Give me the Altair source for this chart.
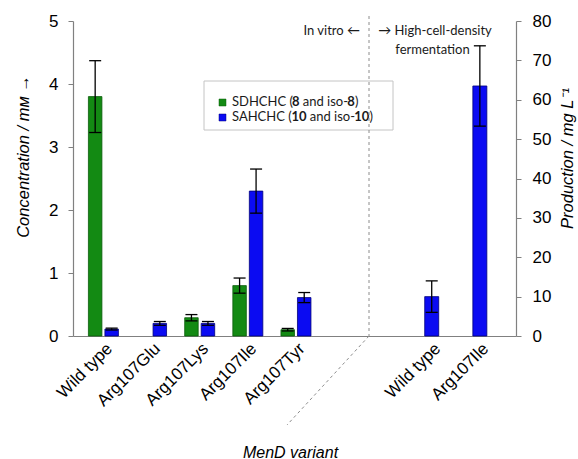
import json
import altair as alt
import pandas as pd

# ---------------- data ----------------
variants_vitro = ["Wild type", "Arg107Glu", "Arg107Lys", "Arg107Ile", "Arg107Tyr"]
sdhchc = [3.8, None, 0.29, 0.8, 0.1]
sdhchc_err = [0.57, None, 0.05, 0.12, 0.02]
sahchc = [0.11, 0.2, 0.2, 2.3, 0.61]
sahchc_err = [0.015, 0.03, 0.03, 0.35, 0.08]

variants_ferm = ["Wild type", "Arg107Ile"]
production = [10.0, 63.5]
production_err = [4.0, 10.2]

# ---------------- layout constants ----------------
FERM_SHIFT = 6.82
X_DOMAIN = [-0.528, 8.467]
GREEN = "#138a13"
GREEN_EDGE = "#0b5c0b"
BLUE = "#0b0bf2"
BLUE_EDGE = "#00007a"
GREY = "#808080"
FONT = "Liberation Sans"
CFONT = "Lato"

rows = []
for i, v in enumerate(variants_vitro):
    if sdhchc[i] is not None:
        rows.append(dict(idx=i, variant=v, series="SDHCHC", value=sdhchc[i], err=sdhchc_err[i]))
    rows.append(dict(idx=i, variant=v, series="SAHCHC", value=sahchc[i], err=sahchc_err[i]))
vitro = pd.DataFrame(rows)
ferm = pd.DataFrame(dict(idx=list(range(len(variants_ferm))), variant=variants_ferm,
                         value=production, err=production_err))

x_ticks = [float(i) for i in range(len(variants_vitro))] + [i + FERM_SHIFT for i in range(len(variants_ferm))]
all_labels = variants_vitro + variants_ferm
label_expr = f"{json.dumps(all_labels)}[indexof({json.dumps(x_ticks)}, datum.value)]"

x_axis = alt.Axis(values=x_ticks, labelExpr=label_expr, labelAngle=315, labelFont=FONT,
                  labelFontSize=17, labelColor="black", ticks=False, grid=False,
                  domainColor=GREY, domainWidth=1.2, labelFlush=False, labelOverlap=False,
                  labelBound=False, labelPadding=4,
                  title="MenD variant", titleFont=FONT, titleFontSize=16, titleFontStyle="italic",
                  titleFontWeight="normal", titleColor="black", titleX=217, titleY=116,
                  titleAlign="center", titleBaseline="middle")
x_enc = alt.X("pos:Q", scale=alt.Scale(domain=X_DOMAIN, nice=False, zero=False), axis=x_axis)

left_axis = alt.Axis(values=[0, 1, 2, 3, 4, 5], format="d", grid=False,
                     title="Concentration / mм →", titleFont=FONT, titleFontSize=16.5,
                     titleFontStyle="italic", titleFontWeight="normal", titleColor="black",
                     titleAngle=270, titleX=-50, titleY=135, titleAlign="center",
                     titleBaseline="middle", labelFont=FONT, labelFontSize=17, labelColor="black",
                     labelPadding=10, tickSize=5, tickColor=GREY, domainColor=GREY, domainWidth=1.2)
right_axis = alt.Axis(orient="right", values=list(range(0, 81, 10)), format="d", grid=False,
                      title="Production / mg L⁻¹", titleFont=FONT, titleFontSize=16.5,
                      titleFontStyle="italic", titleFontWeight="normal", titleColor="black",
                      titleAngle=270, titleX=51, titleY=137, titleAlign="center",
                      titleBaseline="middle", labelFont=FONT, labelFontSize=17, labelColor="black",
                      labelPadding=11, tickSize=5, tickColor=GREY, domainColor=GREY, domainWidth=1.2)

y_left_scale = alt.Scale(domain=[0, 5], nice=False, zero=True)
y_right_scale = alt.Scale(domain=[0, 80], nice=False, zero=True)

base_v = alt.Chart(vitro).transform_calculate(
    pos="datum.idx", lo="datum.value - datum.err", hi="datum.value + datum.err")


def vitro_layers(series, offset, fill, edge):
    b = base_v.transform_filter(alt.datum.series == series)
    bars = b.mark_bar(width=13.5, xOffset=offset, fill=fill, stroke=edge, strokeWidth=0.8).encode(
        x=x_enc, y=alt.Y("value:Q", scale=y_left_scale, axis=left_axis))
    rule = b.mark_rule(xOffset=offset, color="black", strokeWidth=1.3).encode(
        x=x_enc, y=alt.Y("lo:Q", scale=y_left_scale, axis=left_axis), y2="hi:Q")
    cap_hi = b.mark_tick(orient="horizontal", size=12, thickness=1.3, xOffset=offset,
                         color="black", opacity=1).encode(
        x=x_enc, y=alt.Y("hi:Q", scale=y_left_scale, axis=left_axis))
    cap_lo = b.mark_tick(orient="horizontal", size=12, thickness=1.3, xOffset=offset,
                         color="black", opacity=1).encode(
        x=x_enc, y=alt.Y("lo:Q", scale=y_left_scale, axis=left_axis))
    return [bars, rule, cap_hi, cap_lo]


left = alt.layer(*vitro_layers("SDHCHC", -8.25, GREEN, GREEN_EDGE),
                 *vitro_layers("SAHCHC", 8.25, BLUE, BLUE_EDGE))

base_f = alt.Chart(ferm).transform_calculate(
    pos=f"datum.idx + {FERM_SHIFT}", lo="datum.value - datum.err", hi="datum.value + datum.err")
f_bars = base_f.mark_bar(width=14, fill=BLUE, stroke=BLUE_EDGE, strokeWidth=0.8).encode(
    x=x_enc, y=alt.Y("value:Q", scale=y_right_scale, axis=right_axis))
f_rule = base_f.mark_rule(color="black", strokeWidth=1.3).encode(
    x=x_enc, y=alt.Y("lo:Q", scale=y_right_scale, axis=right_axis), y2="hi:Q")
f_cap_hi = base_f.mark_tick(orient="horizontal", size=12, thickness=1.3, color="black", opacity=1).encode(
    x=x_enc, y=alt.Y("hi:Q", scale=y_right_scale, axis=right_axis))
f_cap_lo = base_f.mark_tick(orient="horizontal", size=12, thickness=1.3, color="black", opacity=1).encode(
    x=x_enc, y=alt.Y("lo:Q", scale=y_right_scale, axis=right_axis))
right = alt.layer(f_bars, f_rule, f_cap_hi, f_cap_lo)

# ---------------- annotations ----------------
one = pd.DataFrame({"k": [0]})


def txt(s, x, y, align="left", weight="normal", size=13, font=CFONT):
    return alt.Chart(one).mark_text(text=s, align=align, baseline="middle", font=font,
                                    fontSize=size, fontWeight=weight, color="#1a1a1a").encode(
        x=alt.value(x), y=alt.value(y))


legend_box = alt.Chart(one).mark_rect(fill="white", stroke="#c4c4c4", strokeWidth=1).encode(
    x=alt.value(131), x2=alt.value(320), y=alt.value(60), y2=alt.value(109))
sq_green = alt.Chart(one).mark_rect(fill=GREEN, stroke=GREEN_EDGE, strokeWidth=0.5).encode(
    x=alt.value(146), x2=alt.value(153), y=alt.value(78), y2=alt.value(85))
sq_blue = alt.Chart(one).mark_rect(fill=BLUE, stroke=BLUE_EDGE, strokeWidth=0.5).encode(
    x=alt.value(146), x2=alt.value(153), y=alt.value(93), y2=alt.value(100))

# (text, weight, advance to next segment incl. following space)
leg1 = [("SDHCHC (", "normal", 60.0), ("8", "bold", 10.8), ("and iso-", "normal", 44.5),
        ("8", "bold", 7.6), (")", "normal", 4)]
leg2 = [("SAHCHC (", "normal", 59.5), ("10", "bold", 18.2), ("and iso-", "normal", 44.5),
        ("10", "bold", 15.2), (")", "normal", 4)]
legend_texts = []
for segs, yy in ((leg1, 80.5), (leg2, 95.5)):
    xx = 159
    for s, w, adv in segs:
        legend_texts.append(txt(s, xx, yy, weight=w))
        xx += adv

vline = alt.Chart(one).mark_rule(color="#8c8c8c", strokeDash=[3, 3], strokeWidth=1).encode(
    x=alt.value(296), x2=alt.value(296), y=alt.value(-5), y2=alt.value(315))
dline = alt.Chart(one).mark_rule(color="#8c8c8c", strokeDash=[3, 3], strokeWidth=1).encode(
    x=alt.value(296), x2=alt.value(214), y=alt.value(315), y2=alt.value(404))

ann = [legend_box, sq_green, sq_blue, *legend_texts, vline, dline,
       txt("In vitro ←", 287, 10, align="right"),
       txt("→ High-cell-density", 362, 10, align="center"),
       txt("fermentation", 359.5, 29, align="center")]

chart = alt.layer(left, right, *ann).resolve_scale(y="independent").properties(
    width=443, height=315,
    padding={"left": 73, "top": 21, "right": 62, "bottom": 123},
    autosize=alt.AutoSizeParams(type="none"),
    background="white",
).configure_view(stroke=None)

chart.save("out.html", embed_options={"renderer": "svg", "actions": False})
